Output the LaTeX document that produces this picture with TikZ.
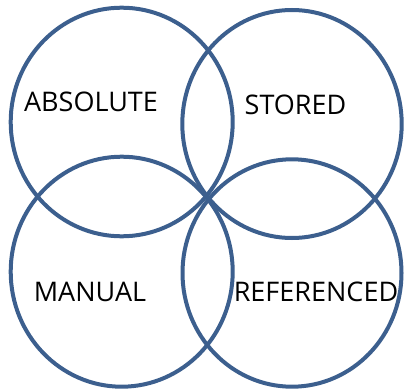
\documentclass[tikz,border=0pt]{standalone}
\usepackage{fontspec}
\setmainfont{Open Sans}
\definecolor{ringblue}{RGB}{60,95,142}
\begin{document}
\begin{tikzpicture}[x=1pt,y=1pt,
                    ring/.style={draw=ringblue,line width=4pt},
                    setname/.style={font=\fontsize{27}{27}\selectfont,inner sep=0pt}]
                    \useasboundingbox (0,0) rectangle (404,389);
                    \draw[ring] (121.7,267)   ellipse [x radius=111, y radius=114.3];
                    \draw[ring] (292,265)     ellipse [x radius=109.7, y radius=114];
                    \draw[ring] (121.7,117.3) ellipse [x radius=111, y radius=115];
                    \draw[ring] (292,116)     ellipse [x radius=109.5, y radius=113.7];
                    \node[setname] (absolute)   at (91,287)    {ABSOLUTE};
                    \node[setname] (stored)     at (295.5,284) {STORED};
                    \node[setname] (manual)     at (90,97.3)   {MANUAL};
                    \node[setname] (referenced) at (316,97.3)  {REFERENCED};
                \end{tikzpicture}
\end{document}
